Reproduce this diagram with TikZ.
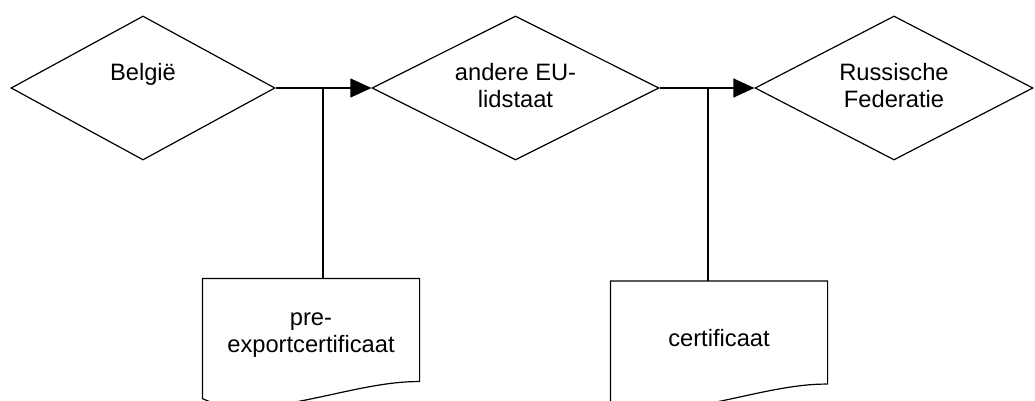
\documentclass[tikz,border=0pt]{standalone}
\usepackage{fontspec}
\setmainfont{Liberation Sans}
\usetikzlibrary{shapes.geometric,arrows.meta,positioning}

\begin{document}
\begin{tikzpicture}[x=1pt, y=-1pt, line width=1.2pt,
    font=\fontsize{23.7}{27}\selectfont,
    land/.style={draw, diamond, inner sep=0pt, minimum height=144pt},
    doc/.style={inner sep=0pt, minimum width=216pt, minimum height=113pt, align=center},
    lbl/.style={inner sep=0pt, align=center},
    flow/.style={-{Triangle[length=21pt,width=19pt]}}]
  \useasboundingbox (0,0) rectangle (1035,401);

  %% countries
  \node[land, minimum width=264pt] (be) at (143,88) {};
  \node[land, minimum width=287pt] (eu) at (515.5,88) {};
  \node[land, minimum width=278pt] (ru) at (894,88) {};

  \node[lbl, below=47pt of be.north] (be-txt) {België};
  \node[lbl, below=47pt of eu.north] (eu-txt) {andere EU-\\lidstaat};
  \node[lbl, below=47pt of ru.north] (ru-txt) {Russische\\Federatie};

  %% documents
  \node[doc] (pre) at (311,335.5) {pre-\\exportcertificaat};
  \node[doc] (cert) at (719,338) {certificaat};

  \foreach \d in {pre,cert} {
    \draw (\d.north west) -- (\d.north east) -- ([yshift=11pt]\d.south east)
      .. controls ([xshift=-69pt,yshift=12pt]\d.south east)
      and ([xshift=57pt,yshift=-33pt]\d.south west)
      .. ([yshift=-6pt]\d.south west) -- cycle;
  }

  %% flow
  \draw[flow] (be.east) -- (eu.west);
  \draw[flow] (eu.east) -- (ru.west);

  \coordinate (j1) at (323,88);
  \coordinate (j2) at (708,88);
  \draw (j1) -- (j1 |- pre.north);
  \draw (j2) -- (j2 |- cert.north);
\end{tikzpicture}
\end{document}
